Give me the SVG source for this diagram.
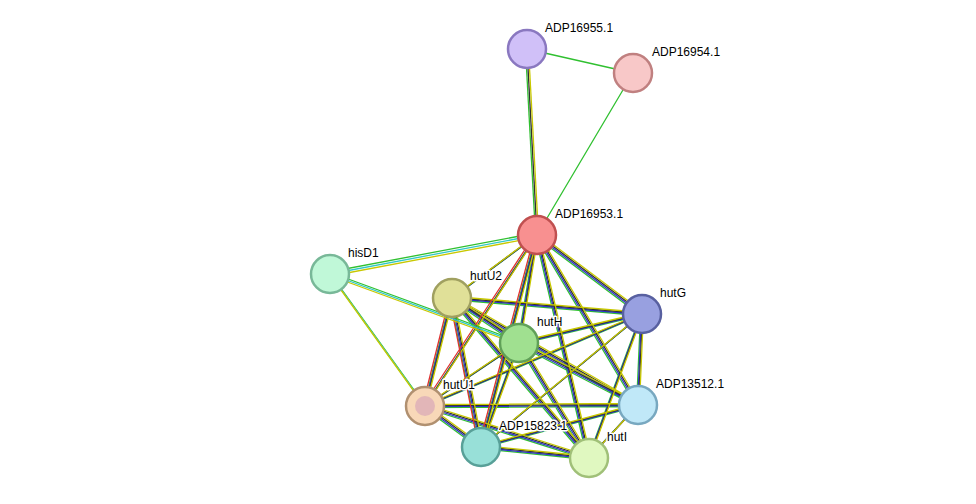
<svg xmlns="http://www.w3.org/2000/svg" xmlns:xlink="http://www.w3.org/1999/xlink" width="976" height="504" viewBox="0 0 976 504">
<style>
.e{fill:none;stroke-width:1.3}
.n circle{stroke-width:2.5}
.n text{font-family:"Liberation Sans",Arial,sans-serif;font-size:12px;fill:#000;stroke:#fff;stroke-width:3;paint-order:stroke;stroke-linejoin:round}
</style>
<defs>
<g id="cl">
<path d="M537 235L452 298M537 235L642 314M537 235L519 343M537 235L425 406M537 235L638 405M537 235L481 447M537 235L589 458M452 298L642 314M452 298L519 343M452 298L425 406M452 298L638 405M452 298L481 447M452 298L589 458M642 314L519 343M642 314L425 406M642 314L638 405M642 314L481 447M642 314L589 458M519 343L425 406M519 343L638 405M519 343L481 447M519 343L589 458M425 406L638 405M425 406L481 447M425 406L589 458M638 405L481 447M638 405L589 458M481 447L589 458"/>
</g>
<g id="hd"><path d="M330 274L537 235M330 274L519 343M330 274L425 406"/></g>
<g id="rd"><path d="M537 235L425 406M537 235L481 447M452 298L481 447M452 298L425 406"/></g>
<g id="top"><path d="M527 49L537 235"/></g>
</defs>
<g id="connectors" class="e">
<use href="#cl" stroke="#30c030" transform="translate(-1.5,1.5)"/>
<use href="#cl" stroke="#3030d0" transform="translate(-0.5,0.5)"/>
<use href="#cl" stroke="#303030" transform="translate(0.5,-0.5)"/>
<use href="#cl" stroke="#c8c800" transform="translate(1.5,-1.5)"/>
<use href="#rd" stroke="#e03030" transform="translate(-2.5,0)"/>
<use href="#hd" stroke="#30c030" transform="translate(-1,-2)"/>
<use href="#hd" stroke="#30c8c8" transform="translate(0,0)"/>
<use href="#hd" stroke="#c8c800" transform="translate(1,2)"/>
<use href="#top" stroke="#30c030" transform="translate(-1.5,0)"/>
<use href="#top" stroke="#303030" transform="translate(0,0)"/>
<use href="#top" stroke="#c8c800" transform="translate(1.5,0)"/>
<path d="M527 49L633 73M633 73L537 235" stroke="#30c030"/>
</g>
<g id="ADP16955.1" class="n"><circle cx="527" cy="49" r="19" fill="#d0c0f8" stroke="#8a78c0"/><text x="545" y="32">ADP16955.1</text></g>
<g id="ADP16954.1" class="n"><circle cx="633" cy="73" r="19" fill="#f8c8c8" stroke="#c08080"/><text x="652" y="56">ADP16954.1</text></g>
<g id="ADP16953.1" class="n"><circle cx="537" cy="235" r="19" fill="#f89090" stroke="#c05050"/><text x="555" y="218">ADP16953.1</text></g>
<g id="hisD1" class="n"><circle cx="330" cy="274" r="19" fill="#c0f8d8" stroke="#78b898"/><text x="348" y="257">hisD1</text></g>
<g id="hutU2" class="n"><circle cx="452" cy="298" r="19" fill="#e0e098" stroke="#a0a060"/><text x="470" y="280">hutU2</text></g>
<g id="hutG" class="n"><circle cx="642" cy="314" r="19" fill="#98a0e0" stroke="#5860a0"/><text x="660" y="297">hutG</text></g>
<g id="hutH" class="n"><circle cx="519" cy="343" r="19" fill="#a0e090" stroke="#60a058"/><text x="537" y="326">hutH</text></g>
<g id="hutU1" class="n"><circle cx="425" cy="406" r="19" fill="#f8d8b8" stroke="#b09070"/><circle cx="425" cy="406" r="10" fill="#d8a8b8" opacity="0.7"/><text x="443" y="389">hutU1</text></g>
<g id="ADP13512.1" class="n"><circle cx="638" cy="405" r="19" fill="#c0e8f8" stroke="#78a8c0"/><text x="656" y="388">ADP13512.1</text></g>
<g id="ADP15823.1" class="n"><circle cx="481" cy="447" r="19" fill="#98e0d8" stroke="#58a098"/><text x="499" y="430">ADP15823.1</text></g>
<g id="hutI" class="n"><circle cx="589" cy="458" r="19" fill="#e0f8c0" stroke="#a0c078"/><text x="607" y="441">hutI</text></g>
</svg>
